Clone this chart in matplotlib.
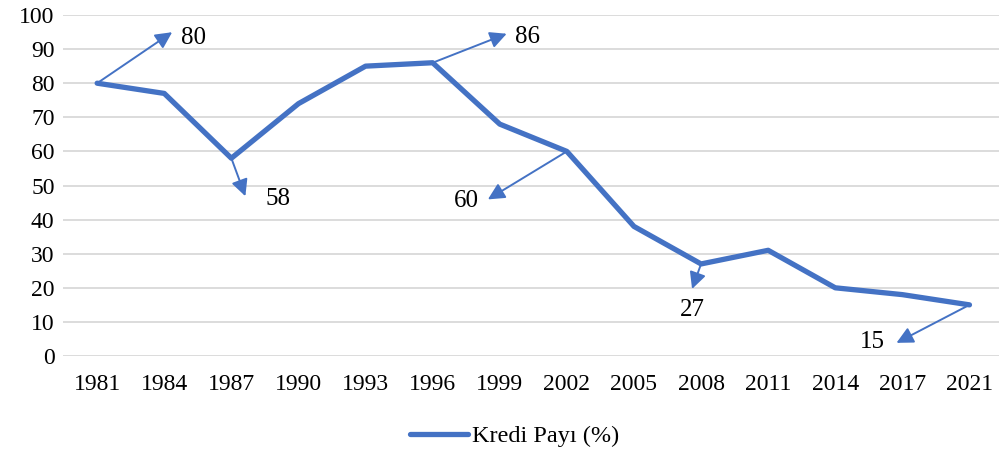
import matplotlib
matplotlib.use("Agg")
from matplotlib import pyplot as plt

years = ['1981', '1984', '1987', '1990', '1993', '1996', '1999',
         '2002', '2005', '2008', '2011', '2014', '2017', '2021']
kredi = [80, 77, 58, 74, 85, 86, 68, 60, 38, 27, 31, 20, 18, 15]

# labelled points: index -> (arrow head offset px, text offset px)
labels = {
    0: ((75, 51), (96, 45)),
    2: ((14, -38), (47, -41)),
    5: ((74, 29), (95, 26)),
    7: ((-79, -48), (-100, -50)),
    9: ((-9, -25), (-9, -46)),
    13: ((-73, -38), (-97, -37)),
}

plt.rcParams['font.family'] = ['Liberation Serif', 'DejaVu Serif']
blue = '#4472C4'

fig = plt.figure(figsize=(9.99, 4.53), dpi=100)
ax = fig.add_axes([0.063, 0.2141, 0.937, 0.7528])

x = list(range(len(years)))
ax.plot(x, kredi, color=blue, linewidth=3.8, solid_joinstyle='round',
        solid_capstyle='round', label='Kredi Payı (%)', zorder=3)

for i, (head, txt) in labels.items():
    ax.annotate('', xy=(i, kredi[i]), xytext=head, textcoords='offset pixels',
                arrowprops=dict(arrowstyle='<|-,head_length=1.0,head_width=0.5',
                                color=blue, lw=1.4, shrinkA=0, shrinkB=0))
    ax.annotate(str(kredi[i]), xy=(i, kredi[i]), xytext=txt,
                textcoords='offset pixels', ha='center', va='center', fontsize=18)

ax.set_xlim(-0.51, 13.44)
ax.set_ylim(0, 100)
ax.set_yticks(range(0, 101, 10))
ax.set_xticks(x)
ax.set_xticklabels(years)
ax.tick_params(axis='both', length=0, labelsize=17)
ax.tick_params(axis='x', pad=13)
ax.tick_params(axis='y', pad=6)
ax.grid(axis='y', color='#d9d9d9', linewidth=1.3)
ax.set_axisbelow(True)
for s in ax.spines.values():
    s.set_visible(False)

fig.legend(loc='center', bbox_to_anchor=(0.515, 0.037), frameon=False,
           fontsize=17.5, handlelength=2.4, handletextpad=0.15)

fig.savefig('out.png', dpi=100)
